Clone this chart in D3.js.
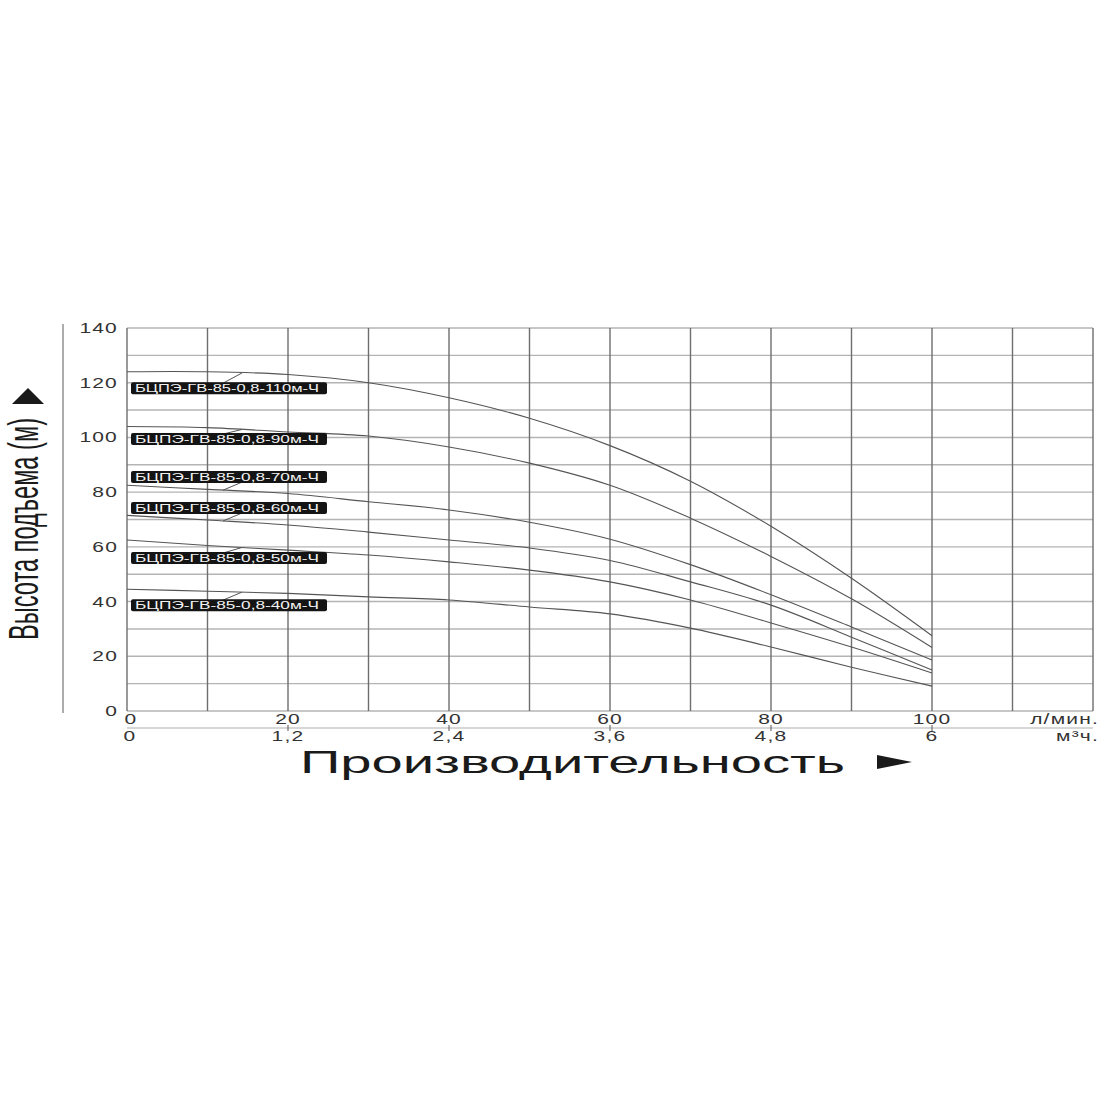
<!DOCTYPE html>
<html lang="ru">
<head>
<meta charset="utf-8">
<title>Напорные характеристики БЦПЭ-ГВ-85-0,8</title>
<script src="https://d3js.org/d3.v7.min.js"></script>
<style>
  body { margin: 0; background: #fff; }
  text { font-family: "Liberation Sans", Arial, sans-serif; fill: #2a2a2a; }
  .grid-v { stroke: #6e6e6e; stroke-width: 1.4px; }
  .grid-h { stroke: #b4b4b4; stroke-width: 1.4px; }
  .curve { fill: none; stroke: #555; stroke-width: 1.1px; }
</style>
</head>
<body>
<script>
// flow, л/мин
var flows = [0, 10, 20, 30, 40, 50, 60, 70, 80, 90, 100];

// head, м, one row per pump
var models = ["БЦПЭ-ГВ-85-0,8-110м-Ч", "БЦПЭ-ГВ-85-0,8-90м-Ч", "БЦПЭ-ГВ-85-0,8-70м-Ч",
              "БЦПЭ-ГВ-85-0,8-60м-Ч", "БЦПЭ-ГВ-85-0,8-50м-Ч", "БЦПЭ-ГВ-85-0,8-40м-Ч"];
var head110 = [124, 124, 123, 120, 114.5, 107, 97, 84, 67.5, 48.5, 27.5];
var head90  = [104, 103.6, 102, 100.5, 96.5, 90.6, 82.5, 70.5, 56.5, 41, 23.2];
var head70  = [82.5, 81, 79.5, 76.5, 73.5, 69, 62.8, 53.5, 42.5, 30.7, 18.6];
var head60  = [71.5, 69.8, 68, 65.4, 62.5, 59.6, 55, 47.2, 38.7, 27, 15];
var head50  = [62.5, 60.5, 58.8, 57, 54.5, 51.5, 47.2, 40.6, 32.2, 23.4, 13.9];
var head40  = [44.5, 43.8, 43, 41.7, 40.6, 38, 35.5, 30.3, 23.4, 16, 9.1];
var heads = [head110, head90, head70, head60, head50, head40];

// tick labels
var yTicks = [0, 20, 40, 60, 80, 100, 120, 140];
var xTicksLmin = [0, 20, 40, 60, 80, 100];
var xTicksM3h = ["0", "1,2", "2,4", "3,6", "4,8", "6"];

// where each black model tag sits (head units, box centre)
var tagAt = [118, 99.4, 85.5, 74.2, 55.9, 38.7];

var W = 1100, H = 1100;
var svg = d3.select("body").append("svg")
    .attr("width", W)
    .attr("height", H);

var x = d3.scaleLinear().domain([0, 120]).range([127, 1093]);
var y = d3.scaleLinear().domain([0, 140]).range([711, 328]);

// grid
svg.append("g").selectAll("line")
    .data(d3.range(0, 141, 10))
    .enter().append("line")
    .attr("class", "grid-h")
    .attr("x1", x(0)).attr("x2", x(120))
    .attr("y1", d => y(d)).attr("y2", d => y(d));

svg.append("g").selectAll("line")
    .data(d3.range(0, 121, 10))
    .enter().append("line")
    .attr("class", "grid-v")
    .attr("x1", d => x(d)).attr("x2", d => x(d))
    .attr("y1", y(0)).attr("y2", y(140));

// left rule next to the axis title
svg.append("line")
    .attr("x1", 63).attr("x2", 63)
    .attr("y1", 324).attr("y2", 713)
    .attr("stroke", "#8a8a8a").attr("stroke-width", 1.4);

// line between the two x label rows
svg.append("line")
    .attr("x1", x(0)).attr("x2", x(120))
    .attr("y1", 728).attr("y2", 728)
    .attr("stroke", "#b0b0b0").attr("stroke-width", 1.2);
svg.append("g").selectAll("line")
    .data(xTicksLmin.slice(1))
    .enter().append("line")
    .attr("x1", d => x(d)).attr("x2", d => x(d))
    .attr("y1", 725).attr("y2", 731)
    .attr("stroke", "#555").attr("stroke-width", 1);

// curves
var line = d3.line()
    .x((d, i) => x(flows[i]))
    .y(d => y(d))
    .curve(d3.curveCatmullRom.alpha(0.5));

svg.append("g").selectAll("path")
    .data(heads)
    .enter().append("path")
    .attr("class", "curve")
    .attr("d", line);

// wide tick labels
function wideText(g, px, py, str, anchor) {
    g.append("text")
        .attr("transform", "translate(" + px + "," + py + ") scale(1.5,1)")
        .attr("text-anchor", anchor)
        .style("font-size", "14px")
        .style("letter-spacing", "0.8px")
        .style("fill", "#333")
        .text(str);
}

var yl = svg.append("g");
yTicks.forEach(function (t) {
    wideText(yl, 118, y(t) + 5, t, "end");
});

var xl = svg.append("g");
xTicksLmin.forEach(function (t) {
    wideText(xl, x(t) + (t === 0 ? 4 : 0), 724, t, "middle");
});
xTicksM3h.forEach(function (t, i) {
    wideText(xl, x(xTicksLmin[i]) + (i === 0 ? 3 : 0), 741, t, "middle");
});
wideText(xl, 1099, 724, "л/мин.", "end");
wideText(xl, 1099, 741, "м³ч.", "end");

// model tags with short leaders
var tags = svg.append("g");
models.forEach(function (name, i) {
    var cy = y(tagAt[i]);
    var hAt = d3.scaleLinear().domain(flows).range(heads[i]);
    var boxTop = cy - 6, boxBot = cy + 6;
    var xa = 223, xb = 242;
    var qa = x.invert(xa), qb = x.invert(xb);
    if (tagAt[i] < hAt(qb)) {
        // tag below its curve
        tags.append("line")
            .attr("x1", xa).attr("y1", boxTop + 1)
            .attr("x2", xb).attr("y2", y(hAt(qb)))
            .attr("stroke", "#555").attr("stroke-width", 1);
    } else {
        tags.append("line")
            .attr("x1", xa).attr("y1", y(hAt(qa)))
            .attr("x2", xb).attr("y2", boxBot - 1)
            .attr("stroke", "#555").attr("stroke-width", 1);
    }
    tags.append("rect")
        .attr("x", 131).attr("y", boxTop)
        .attr("width", 196).attr("height", 12)
        .attr("rx", 2)
        .attr("fill", "#141414");
    tags.append("text")
        .attr("x", 135).attr("y", cy + 3.6)
        .attr("textLength", 184)
        .attr("lengthAdjust", "spacingAndGlyphs")
        .style("font-size", "10px")
        .style("fill", "#f2f2f2")
        .text(name);
});

// axis titles
svg.append("text")
    .attr("transform", "translate(38,640) rotate(-90)")
    .attr("textLength", 222)
    .attr("lengthAdjust", "spacingAndGlyphs")
    .style("font-size", "42px")
    .style("fill", "#1a1a1a")
    .text("Высота подъема (м)");
svg.append("path")
    .attr("d", "M12,404 L44,404 L28,388 Z")
    .attr("fill", "#1a1a1a");

svg.append("text")
    .attr("x", 300).attr("y", 773)
    .attr("textLength", 545)
    .attr("lengthAdjust", "spacingAndGlyphs")
    .style("font-size", "32px")
    .style("fill", "#1a1a1a")
    .text("Производительность");
svg.append("path")
    .attr("d", "M877,755 L912,762 L877,769 Z")
    .attr("fill", "#1a1a1a");
</script>
</body>
</html>
